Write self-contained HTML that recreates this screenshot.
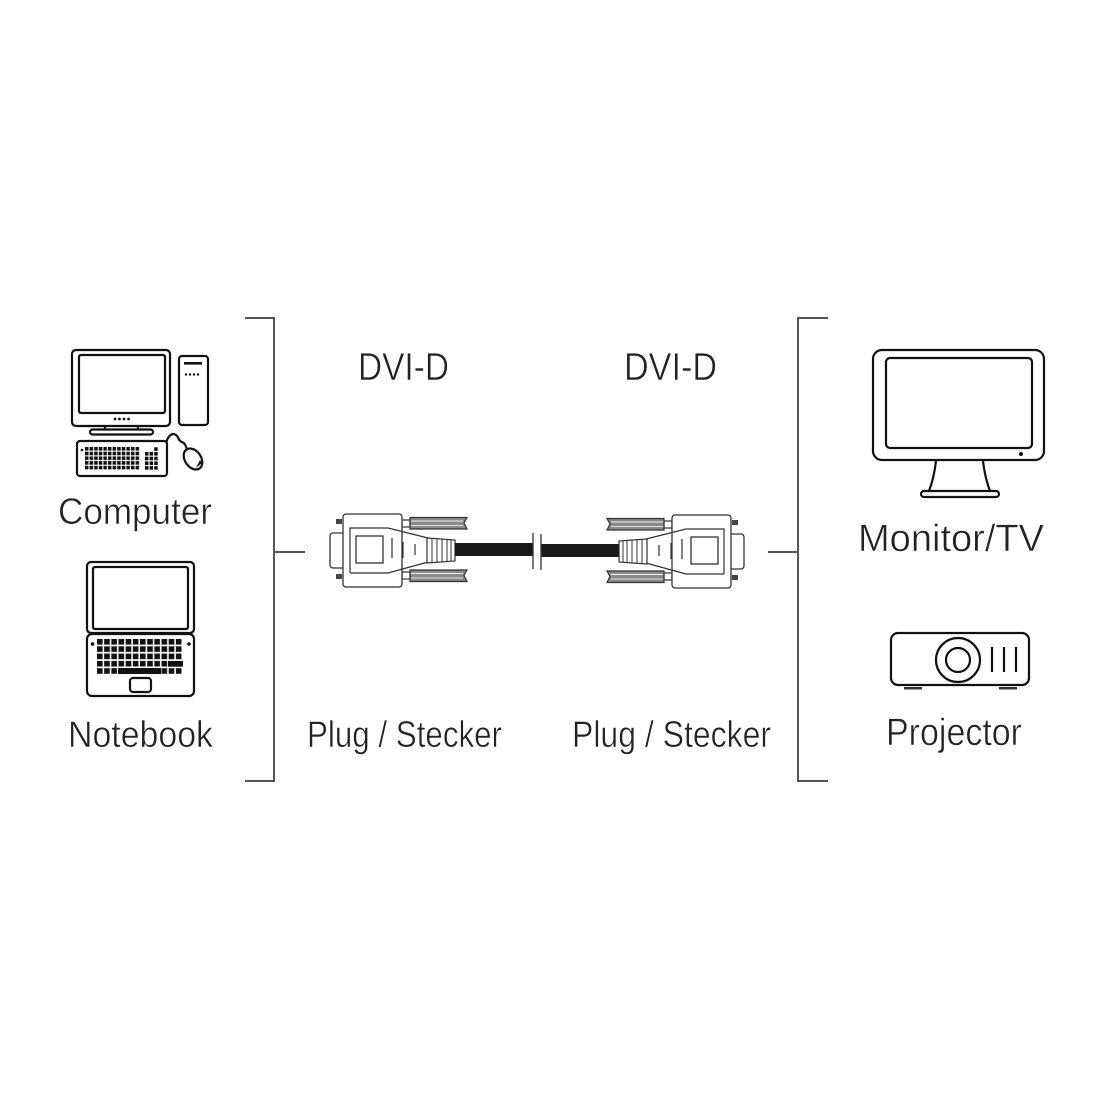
<!DOCTYPE html>
<html>
<head>
<meta charset="utf-8">
<style>
html,body{margin:0;padding:0;background:#fff;}
svg{display:block;}
text{font-family:"Liberation Sans",sans-serif;fill:#222;stroke:#fff;stroke-width:0.55px;}
</style>
</head>
<body>
<svg width="1100" height="1100" viewBox="0 0 1100 1100" xmlns="http://www.w3.org/2000/svg">
<defs>
  <pattern id="kb" x="85" y="447" width="4.6" height="4.7" patternUnits="userSpaceOnUse">
    <rect x="0" y="0" width="3.5" height="3.6" fill="#111"/>
  </pattern>
  <pattern id="lk" x="97" y="639" width="7.17" height="7.3" patternUnits="userSpaceOnUse">
    <rect x="0" y="0" width="5.6" height="5.6" fill="#111"/>
  </pattern>
  <g id="conn">
    <!-- thumbscrews -->
    <rect x="402" y="520" width="8" height="7" fill="#fff" stroke="#333" stroke-width="1.2"/>
    <path d="M410 517.5 L467 517.5 L464 523 L467 529 L410 529 Z" fill="#8a8a8a" stroke="#333" stroke-width="1.2"/>
    <line x1="411" y1="521" x2="463" y2="521" stroke="#eee" stroke-width="1"/>
    <line x1="411" y1="525.5" x2="463" y2="525.5" stroke="#ddd" stroke-width="1"/>
    <rect x="402" y="572" width="8" height="7" fill="#fff" stroke="#333" stroke-width="1.2"/>
    <path d="M410 570 L467 570 L464 575.5 L467 581.5 L410 581.5 Z" fill="#8a8a8a" stroke="#333" stroke-width="1.2"/>
    <line x1="411" y1="573.5" x2="463" y2="573.5" stroke="#eee" stroke-width="1"/>
    <line x1="411" y1="578" x2="463" y2="578" stroke="#ddd" stroke-width="1"/>
    <!-- front face -->
    <rect x="330" y="533" width="15" height="35" rx="3" fill="#fff" stroke="#333" stroke-width="1.3"/>
    <!-- screw heads -->
    <rect x="336" y="519" width="6" height="5" fill="#444"/>
    <rect x="336" y="574" width="6" height="5" fill="#444"/>
    <!-- shell -->
    <rect x="343" y="514" width="59" height="73" rx="3" fill="#fff" stroke="#333" stroke-width="1.3"/>
    <path d="M350 573 L350 528 L388 528 L428 538 M350 573 L388 573 L428 562" fill="none" stroke="#333" stroke-width="1.2"/>
    <rect x="356" y="536" width="27" height="27" fill="#fff" stroke="#333" stroke-width="1.3"/>
    <line x1="392" y1="538" x2="392" y2="558" stroke="#333" stroke-width="1.2"/>
    <line x1="403" y1="542" x2="403" y2="558" stroke="#333" stroke-width="1.2"/>
    <line x1="415" y1="544" x2="415" y2="555" stroke="#333" stroke-width="1.2"/>
    <!-- strain relief -->
    <path d="M427 538 L455 540 L455 561 L427 563 Z" fill="#fff" stroke="#333" stroke-width="1.2"/>
    <line x1="432" y1="539" x2="432" y2="562" stroke="#333" stroke-width="1"/>
    <line x1="437" y1="539" x2="437" y2="562" stroke="#333" stroke-width="1"/>
    <line x1="442" y1="539" x2="442" y2="562" stroke="#333" stroke-width="1"/>
    <line x1="447" y1="540" x2="447" y2="561" stroke="#333" stroke-width="1"/>
    <line x1="451" y1="540" x2="451" y2="561" stroke="#333" stroke-width="1"/>
    <!-- cable -->
    <rect x="455" y="543" width="78" height="13" fill="#1a1a1a"/>
    <line x1="533" y1="533" x2="533" y2="569" stroke="#333" stroke-width="1.3"/>
  </g>
</defs>

<!-- brackets -->
<polyline points="245,318 274,318 274,781 245,781" fill="none" stroke="#555" stroke-width="2"/>
<line x1="274" y1="552" x2="305" y2="552" stroke="#555" stroke-width="2"/>
<polyline points="828,318 798,318 798,781 828,781" fill="none" stroke="#555" stroke-width="2"/>
<line x1="768" y1="552" x2="798" y2="552" stroke="#555" stroke-width="2"/>

<!-- Computer icon -->
<g fill="none" stroke="#111" stroke-width="2.2">
  <rect x="72" y="350" width="98" height="76" rx="4"/>
  <rect x="79" y="355" width="86" height="58" rx="2"/>
  <line x1="105" y1="426" x2="105" y2="430"/>
  <line x1="138" y1="426" x2="138" y2="430"/>
  <rect x="90" y="429.5" width="63" height="5" rx="2.5"/>
  <rect x="179" y="356" width="29" height="69" rx="3"/>
  <rect x="77" y="441" width="90" height="35" rx="3"/>
  <path d="M166 443 C168 436 172 432 176 435 C179 437 178 441 182 442 C185 443 186 446 187 450"/>
  <ellipse cx="193" cy="459" rx="8" ry="11.5" transform="rotate(-35 193 459)"/>
</g>
<g fill="#111">
  <circle cx="115" cy="419" r="1.4"/><circle cx="119.5" cy="419" r="1.4"/><circle cx="124" cy="419" r="1.4"/><circle cx="128.5" cy="419" r="1.4"/>
  <rect x="184" y="362" width="18" height="2.6"/>
  <circle cx="186" cy="374.5" r="1.2"/><circle cx="190" cy="374.5" r="1.2"/><circle cx="194" cy="374.5" r="1.2"/><circle cx="198" cy="374.5" r="1.2"/>
  <circle cx="82" cy="450" r="1.3"/>
  <path d="M196 468 L200 460 L202 463 Z"/>
</g>
<rect x="85" y="447" width="55" height="23.5" fill="url(#kb)"/>
<g fill="#111">
  <rect x="145" y="452" width="3.5" height="3.6"/><rect x="149.6" y="452" width="3.5" height="3.6"/><rect x="154.2" y="452" width="3.5" height="3.6"/>
  <rect x="145" y="456.7" width="3.5" height="3.6"/><rect x="149.6" y="456.7" width="3.5" height="3.6"/><rect x="154.2" y="456.7" width="3.5" height="3.6"/>
  <rect x="145" y="461.4" width="3.5" height="3.6"/><rect x="149.6" y="461.4" width="3.5" height="3.6"/><rect x="154.2" y="461.4" width="3.5" height="3.6"/>
  <rect x="145" y="466.1" width="3.5" height="3.6"/><rect x="149.6" y="466.1" width="3.5" height="3.6"/><rect x="154.2" y="466.1" width="3.5" height="3.6"/>
  <rect x="154.2" y="447.3" width="3.5" height="3.6"/>
</g>

<!-- Notebook icon -->
<g fill="none" stroke="#111" stroke-width="2.2">
  <rect x="87" y="562" width="107" height="71" rx="4"/>
  <rect x="93" y="567" width="95" height="62" rx="2"/>
  <rect x="87" y="634" width="107" height="62" rx="5"/>
  <rect x="130" y="678" width="21" height="14" rx="3"/>
</g>
<g fill="#111">
  <circle cx="92.5" cy="644" r="1.8"/><circle cx="189" cy="644" r="1.8"/>
</g>
<rect x="97" y="639" width="86" height="36" fill="url(#lk)"/>
<rect x="118" y="668" width="43" height="6" fill="#111"/>
<rect x="168" y="661" width="15" height="5.6" fill="#111"/>

<!-- Monitor/TV icon -->
<g fill="none" stroke="#111" stroke-width="2.2">
  <rect x="873" y="350" width="171" height="110" rx="9"/>
  <rect x="886" y="358" width="146" height="90" rx="4"/>
  <path d="M936 461 Q934 478 929 491"/>
  <path d="M983 461 Q985 478 990 491"/>
  <rect x="921" y="491" width="78" height="6" rx="3"/>
</g>
<circle cx="1021" cy="454" r="2" fill="#111"/>

<!-- Projector icon -->
<g fill="none" stroke="#111" stroke-width="2.2">
  <rect x="891" y="633" width="138" height="52" rx="7"/>
  <circle cx="958" cy="660" r="22"/>
  <circle cx="958" cy="660" r="12"/>
  <line x1="992" y1="647" x2="992" y2="672"/>
  <line x1="1004" y1="647" x2="1004" y2="672"/>
  <line x1="1016" y1="647" x2="1016" y2="672"/>
</g>
<rect x="904" y="687" width="18" height="2.5" fill="#333"/>
<rect x="999" y="687" width="18" height="2.5" fill="#333"/>

<!-- connectors -->
<use href="#conn"/>
<use href="#conn" transform="matrix(-1,0,0,1,1074,1)"/>

<!-- labels -->
<text x="58" y="524" font-size="37" textLength="154" lengthAdjust="spacingAndGlyphs">Computer</text>
<text x="68" y="747" font-size="37" textLength="145" lengthAdjust="spacingAndGlyphs">Notebook</text>
<text x="358" y="380" font-size="39" textLength="91" lengthAdjust="spacingAndGlyphs">DVI-D</text>
<text x="624" y="380" font-size="39" textLength="93" lengthAdjust="spacingAndGlyphs">DVI-D</text>
<text x="307" y="747" font-size="37" textLength="195" lengthAdjust="spacingAndGlyphs">Plug / Stecker</text>
<text x="572" y="747" font-size="37" textLength="199" lengthAdjust="spacingAndGlyphs">Plug / Stecker</text>
<text x="858" y="551" font-size="38" textLength="186" lengthAdjust="spacingAndGlyphs">Monitor/TV</text>
<text x="886" y="745" font-size="38" textLength="136" lengthAdjust="spacingAndGlyphs">Projector</text>
</svg>
</body>
</html>
